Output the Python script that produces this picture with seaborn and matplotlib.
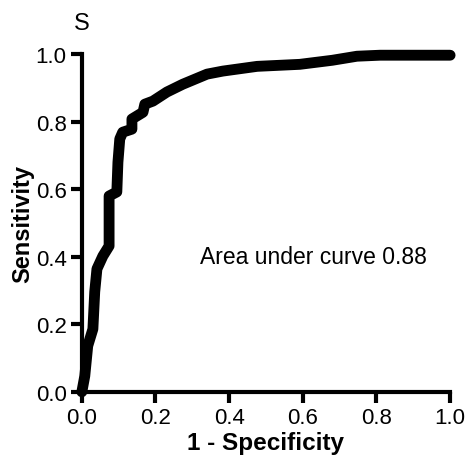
import matplotlib
matplotlib.use("Agg")
import matplotlib.pyplot as plt
import seaborn as sns
import pandas as pd

# ROC curve points
fpr = [0.0, 0.008, 0.016, 0.030, 0.035, 0.041, 0.057, 0.074, 0.074, 0.095,
       0.098, 0.103, 0.111, 0.136, 0.136, 0.166, 0.171, 0.193, 0.231, 0.274,
       0.340, 0.383, 0.476, 0.592, 0.680, 0.747, 0.810, 1.0]
tpr = [0.0, 0.047, 0.136, 0.186, 0.296, 0.364, 0.402, 0.432, 0.580, 0.592,
       0.680, 0.749, 0.769, 0.778, 0.808, 0.828, 0.852, 0.861, 0.888, 0.911,
       0.941, 0.950, 0.964, 0.970, 0.982, 0.994, 0.997, 0.997]

ticks = [0.0, 0.2, 0.4, 0.6, 0.8, 1.0]
tick_labels = ["0.0", "0.2", "0.4", "0.6", "0.8", "1.0"]
auc_text = "Area under curve 0.88"

sns.set_style("ticks")
plt.rcParams["font.family"] = ["Liberation Sans", "DejaVu Sans"]
plt.rcParams["text.color"] = "black"
plt.rcParams["axes.labelcolor"] = "black"
plt.rcParams["xtick.color"] = "black"
plt.rcParams["ytick.color"] = "black"

df = pd.DataFrame({"fpr": fpr, "tpr": tpr})

fig = plt.figure(figsize=(4.65, 4.6), dpi=100)
ax = fig.add_axes([0.176, 0.146, 0.792, 0.734])

sns.lineplot(data=df, x="fpr", y="tpr", sort=False, estimator=None,
             color="black", linewidth=7.8, solid_capstyle="round",
             solid_joinstyle="round", ax=ax, clip_on=False)

ax.set_xlim(0, 1)
ax.set_ylim(0, 1)
ax.set_xticks(ticks)
ax.set_xticklabels(tick_labels)
ax.set_yticks(ticks)
ax.set_yticklabels(tick_labels)
sns.despine(ax=ax)
for side in ["left", "bottom"]:
    ax.spines[side].set_linewidth(3)
    ax.spines[side].set_color("black")
ax.tick_params(width=3, length=8, labelsize=16, pad=3)

ax.set_xlabel("1 - Specificity", fontsize=17.5, fontweight="bold", labelpad=2)
ax.set_ylabel("Sensitivity", fontsize=17, fontweight="bold", labelpad=1)

ax.text(0.63, 0.40, auc_text, fontsize=16.5, ha="center", va="center")
fig.text(82 / 465, 1 - 24 / 460, "S", fontsize=17, ha="center", va="center")

fig.savefig("out.png", dpi=100, facecolor="white")
